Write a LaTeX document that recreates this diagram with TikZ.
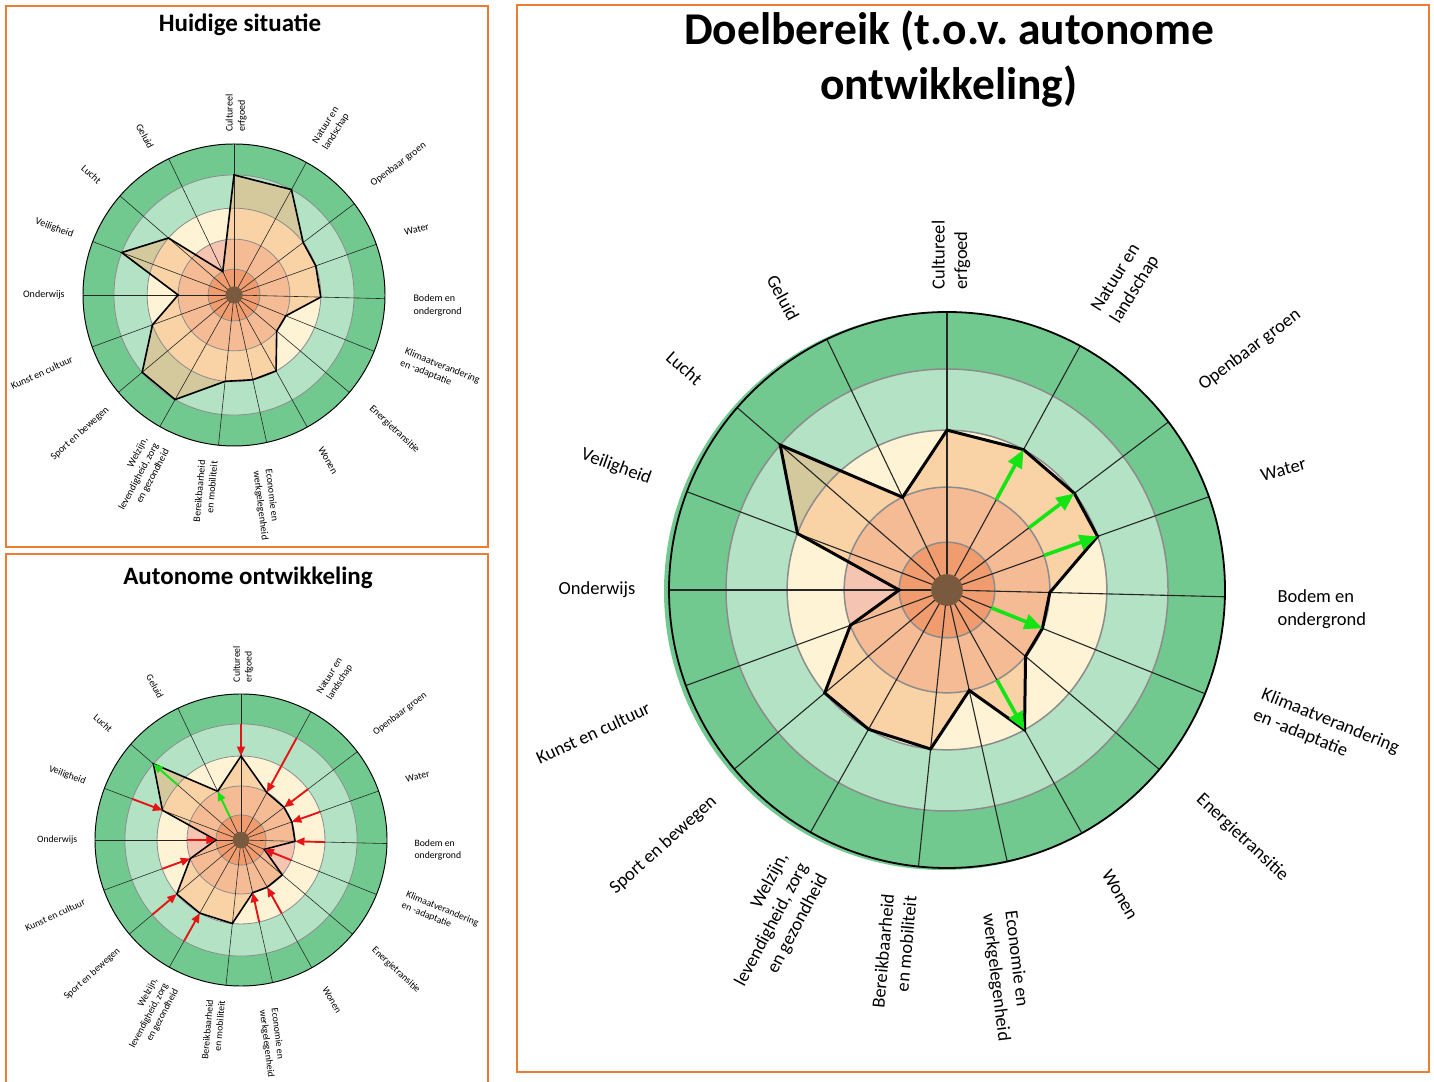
\documentclass[tikz,border=0pt]{standalone}
\usepackage{fontspec}
\setmainfont{Carlito}
\usetikzlibrary{arrows.meta}
\frenchspacing
\definecolor{ogreen}{RGB}{113,201,143}
\definecolor{lgreen}{RGB}{180,226,196}
\definecolor{cream}{RGB}{255,243,214}
\definecolor{pinkr}{RGB}{246,197,178}
\definecolor{salr}{RGB}{236,135,100}
\definecolor{polyfill}{RGB}{245,178,120}
\definecolor{brownd}{RGB}{122,90,62}
\definecolor{gridgray}{RGB}{140,140,140}
\definecolor{frameor}{RGB}{237,125,49}
\definecolor{arrgreen}{RGB}{20,228,20}
\definecolor{arrred}{RGB}{230,20,20}
\def\angarr{{90,61.4,37.2,19.6,-1.4,-21.9,-40.2,-61,-77.5,-95.9,-119.4,-139.9,-159.9,180,159.3,139,115.6}}

\newcommand\radarchart[5]{%
 \pgfmathsetmacro\rs{#4/278}%
 \pgfmathsetmacro\fs{18.5*\rs}\pgfmathsetmacro\fb{22.5*\rs}%
 \coordinate (#1-c) at (#2,#3);
 \begin{scope}[shift={(#2,#3)}]
  \fill[ogreen] (0,0) circle (#4);
  \fill[lgreen] (0,0) circle ({0.795*#4});
  \fill[cream] (0,0) circle ({0.575*#4});
  \fill[pinkr] (0,0) circle ({0.37*#4});
  \fill[salr] (0,0) circle ({0.172*#4});
  \foreach \v [count=\i from 0] in {#5}{\pgfmathsetmacro\ang{\angarr[\i]}\coordinate (#1-p\i) at (\ang:{lev(\v)*#4});}
  \fill[polyfill, fill opacity=0.5] (#1-p0) \foreach \j in {1,...,16}{-- (#1-p\j)} -- cycle;
  \foreach \ff in {0.172,0.37,0.575,0.795}{\draw[gridgray, line width=1.5*\rs] (0,0) circle ({\ff*#4});}
  \foreach \i in {0,...,16}{\pgfmathsetmacro\ang{\angarr[\i]}\draw[black!85, line width=1.1*\rs] (0,0) -- (\ang:#4);}
  \draw[line width=3*\rs, line join=miter] (#1-p0) \foreach \j in {1,...,16}{-- (#1-p\j)} -- cycle;
  \draw[line width=1.8*\rs] (0,0) circle (#4);
  \foreach \k/\rr/\la/\rot/\al/\txt in {
   0/1.205/89.3/90/left/{Cultureel\\erfgoed},
   1/1.275/59.7/58/left/{Natuur en\\landschap},
   2/1.39/38.4/37/left/{Openbaar groen},
   3/1.285/19.7/15/left/{Water},
   4/1.35/-2.9/0/left/{Bodem en\\ondergrond},
   5/1.456/-20.5/-22/left/{Klimaatverandering\\en -adaptatie},
   6/1.386/-40/-43/left/{Energietransitie},
   7/1.26/-60.4/-60/left/{Wonen},
   8/1.405/-81.2/-83/left/{Economie en\\werkgelegenheid},
   9/1.316/-98.3/85/right/{Bereikbaarheid\\en mobiliteit},
   10/1.36/-117.6/62/right/{Welzijn,\\levendigheid, zorg\\en gezondheid},
   11/1.373/-138/42/right/{Sport en bewegen},
   12/1.373/-158/25/right/{Kunst en cultuur},
   13/1.259/180/0/right/{Onderwijs},
   14/1.27/159.6/-20/right/{Veiligheid},
   15/1.237/139.8/-42/right/{Lucht},
   16/1.205/119.3/-62/right/{Geluid}}{%
   \node[rotate=\rot, align=\al, inner sep=0, font=\fontsize{\fs pt}{\fb pt}\selectfont] (#1-l\k) at (\la:{\rr*#4}) {\txt};}
 \end{scope}}

\newcommand\radararrows[3]{%
 \pgfmathsetmacro\rs{#2/278}\pgfmathsetmacro\alen{18*\rs}\pgfmathsetmacro\awid{15*\rs}\pgfmathsetmacro\alw{3.6*\rs}%
 \begin{scope}[shift={(#1-c)}]
  \foreach \k/\ff/\cc in {#3}{\pgfmathsetmacro\ang{\angarr[\k]}\coordinate (#1-a\k) at (\ang:{lev(\ff)*#2});}
 \end{scope}
 \foreach \k/\ff/\cc in {#3}{\draw[color=\cc, line width=\alw, -{Triangle[length=\alen pt, width=\awid pt]}] (#1-a\k) -- (#1-p\k);}
}

\newcommand\radardot[2]{\fill[brownd] (#1-c) circle ({0.057*#2});}

\begin{document}
\begin{tikzpicture}[x=1pt,y=1pt,
  declare function={lev(\l)=0.172*(\l<1.5)+0.37*(\l>1.5)*(\l<2.5)+0.575*(\l>2.5)*(\l<3.5)+0.795*(\l>3.5)*(\l<4.5)+1*(\l>4.5);},
  framebox/.style={draw=frameor, line width=2},
  paneltitle/.style={font=\bfseries\fontsize{25}{30}\selectfont, inner sep=0, anchor=base},
  bigtitle/.style={font=\bfseries\fontsize{45.5}{55}\selectfont, inner sep=0, anchor=base}]
\useasboundingbox (0,0) rectangle (1434,1081);
\fill[white] (0,0) rectangle (1434,1081);

\draw[framebox] (6,534) rectangle (488,1075);
\draw[framebox] (6,-3) -- (6,527) -- (488,527) -- (488,-3);
\draw[framebox] (517,9) rectangle (1429,1076);

\node[paneltitle] (t1) at (240,1049) {Huidige situatie};
\node[paneltitle] (t2) at (248,496) {Autonome ontwikkeling};
\node[bigtitle] (t3a) at (949,1036) {Doelbereik (t.o.v. autonome};
\node[bigtitle] (t3b) at (949,981) {ontwikkeling)};

\radarchart{H}{234}{786}{151}{4,4,3,3,3,2,2,3,3,3,4,4,3,2,4,3,1}
\radardot{H}{151}

\radarchart{A}{241}{241}{146}{3,2,2,2,2,1,2,2,2,3,3,3,2,1,3,4,2}
\radararrows{A}{146}{0/4/arrred,1/4/arrred,2/3/arrred,3/3/arrred,4/3/arrred,5/2/arrred,7/3/arrred,8/3/arrred,10/4/arrred,11/4/arrred,12/3/arrred,13/2/arrred,14/4/arrred,15/3/arrgreen,16/1/arrgreen}
\radardot{A}{146}

\fill[ogreen] (943,490) circle (279);
\radarchart{D}{947}{491}{278}{3,3,3,3,2,2,2,3,2,3,3,3,2,1,3,4,2}
\radararrows{D}{278}{1/2/arrgreen,2/2/arrgreen,3/2/arrgreen,5/1/arrgreen,7/2/arrgreen}
\radardot{D}{278}
\end{tikzpicture}
\end{document}
